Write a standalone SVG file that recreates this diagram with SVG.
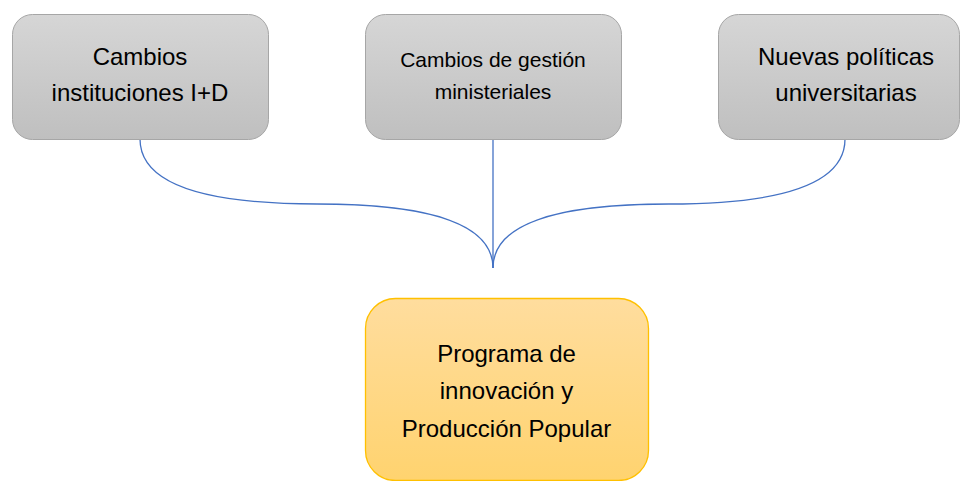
<svg xmlns="http://www.w3.org/2000/svg" width="960" height="481" viewBox="0 0 960 481">
<defs>
<linearGradient id="gGray" x1="0" y1="0" x2="0" y2="1">
<stop offset="0" stop-color="#d6d6d6"/>
<stop offset="1" stop-color="#bfbfbf"/>
</linearGradient>
<linearGradient id="gGold" x1="0" y1="0" x2="0" y2="1">
<stop offset="0" stop-color="#ffdd9e"/>
<stop offset="1" stop-color="#ffd36f"/>
</linearGradient>
<style>
.gray{fill:url(#gGray);stroke:#a6a6a6;stroke-width:1}
.gold{fill:url(#gGold);stroke:#ffc000;stroke-width:1.3}
.t{font-family:"Liberation Sans",Arial,sans-serif;font-size:24px;fill:#000;text-anchor:middle}
.s{font-size:21px}
.conn{fill:none;stroke:#4472c4;stroke-width:1.3}
</style>
</defs>
<rect width="960" height="481" fill="#ffffff"/>
<g id="connectors">
<path class="conn" d="M140,139 Q140,204 317,204 Q493,204 493,268"/>
<path class="conn" d="M493,139 L493,268"/>
<path class="conn" d="M845,139 Q845,204 669,204 Q493,204 493,268"/>
</g>
<g id="node-instituciones">
<rect class="gray" x="12.5" y="14.5" width="256" height="125" rx="20"/>
<text class="t" x="140" y="65">Cambios</text>
<text class="t" x="140" y="101">instituciones I+D</text>
</g>
<g id="node-gestion">
<rect class="gray" x="365.5" y="14.5" width="256" height="125" rx="20"/>
<text class="t s" x="493" y="67">Cambios de gestión</text>
<text class="t s" x="493" y="99">ministeriales</text>
</g>
<g id="node-politicas">
<rect class="gray" x="718.5" y="14.5" width="241" height="125" rx="20"/>
<text class="t" x="846" y="65">Nuevas políticas</text>
<text class="t" x="846" y="101">universitarias</text>
</g>
<g id="node-programa">
<rect class="gold" x="365.5" y="298.5" width="283" height="182" rx="30"/>
<text class="t" x="506.5" y="362">Programa de</text>
<text class="t" x="506.5" y="399">innovación y</text>
<text class="t" x="506.5" y="437">Producción Popular</text>
</g>
</svg>
